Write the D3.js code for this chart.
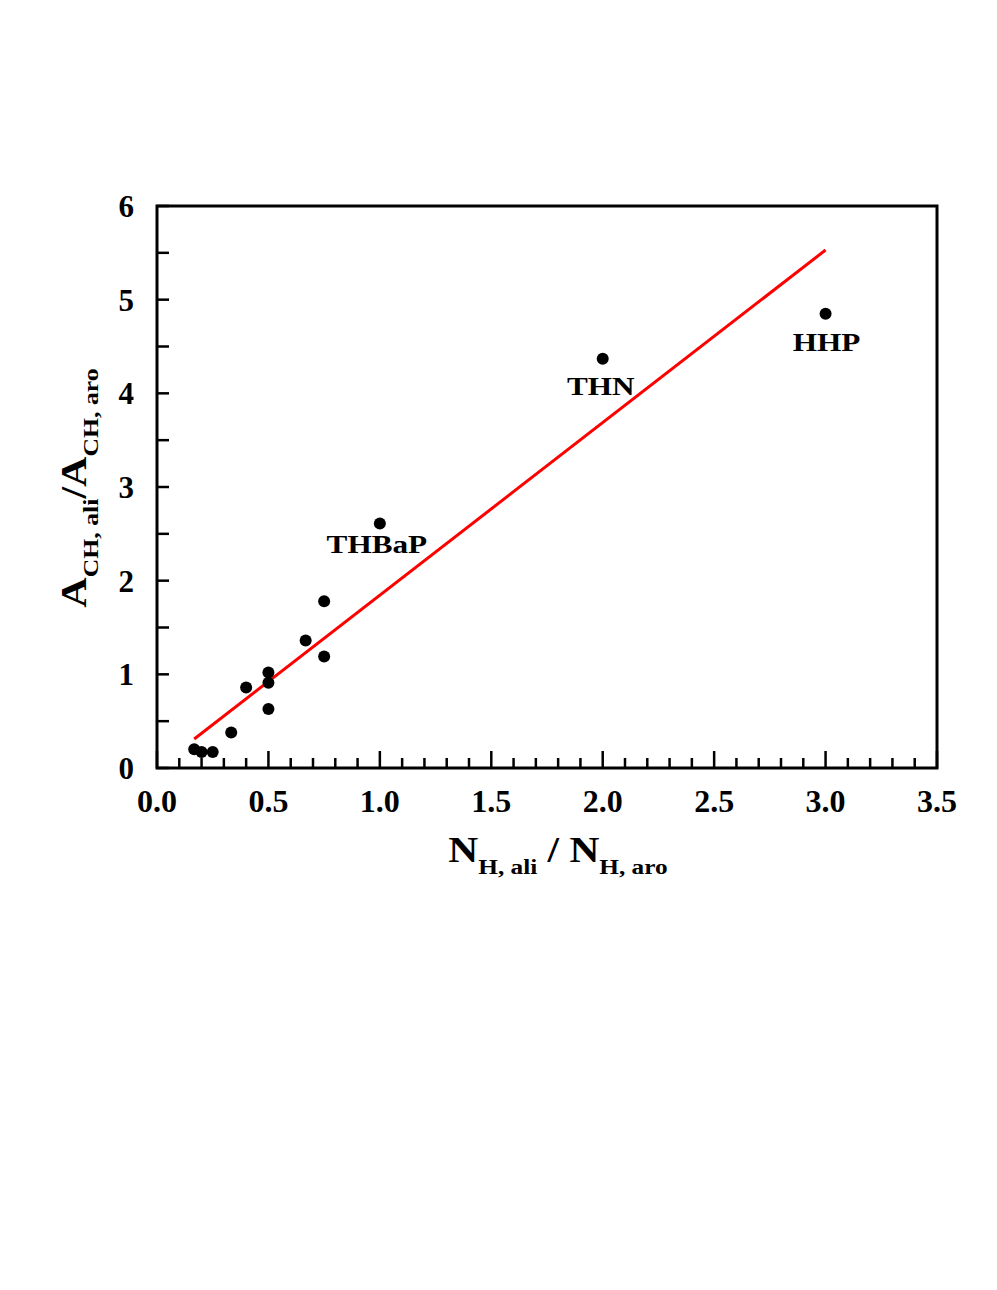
<!DOCTYPE html>
<html>
<head>
<meta charset="utf-8">
<script src="https://cdn.jsdelivr.net/npm/d3@7"></script>
<style>
	body { margin: 0; background: #fff; }
	text { font-family: "Liberation Serif", "Times New Roman", serif; font-weight: bold; fill: #000; }
</style>
</head>
<body>
<svg id="chart"></svg>
<script type="text/javascript">

	// data
	let ratioNH = [0.167, 0.2, 0.25, 0.333, 0.4, 0.5, 0.5, 0.5, 0.667, 0.75, 0.75, 1.0, 2.0, 3.0]
	let ratioA = [0.20, 0.17, 0.17, 0.38, 0.86, 1.02, 0.91, 0.63, 1.36, 1.78, 1.19, 2.61, 4.37, 4.85]

	// fitted line, endpoints
	let fitX = [0.167, 3.0]
	let fitY = [0.31, 5.53]

	// labelled compounds
	let labelNames = ["THBaP", "THN", "HHP"]
	let labelX = [1.0, 2.0, 3.0]
	let labelY = [2.61, 4.37, 4.85]

	let xDomain = [0, 3.5]
	let yDomain = [0, 6]

	// sizes
	let width = 997
	let height = 1290
	let plotLeft = 157, plotRight = 937, plotTop = 206, plotBottom = 768
	let stretch = 1.2      // text in the figure is a bit wide
	let labelOffsets = { "THBaP": [-3, 29], "THN": [-2, 36], "HHP": [1, 37] }

	let chart = d3.select("#chart")
		.attr("width", width)
		.attr("height", height)

	let xScale = d3.scaleLinear().domain(xDomain).range([plotLeft, plotRight])
	let yScale = d3.scaleLinear().domain(yDomain).range([plotBottom, plotTop])

	// tick marks, inward
	let xMajor = xScale.ticks(7)
	let xMinor = xScale.ticks(35)
	let yTicks = yScale.ticks(12)

	chart.append("g").selectAll("line")
		.data(xMinor)
		.enter().append("line")
		.attr("x1", d => xScale(d)).attr("x2", d => xScale(d))
		.attr("y1", plotBottom)
		.attr("y2", d => xMajor.some(m => Math.abs(m - d) < 1e-6) ? plotBottom - 17 : plotBottom - 10)
		.style("stroke", "#000").style("stroke-width", 2.5)

	chart.append("g").selectAll("line")
		.data(yTicks)
		.enter().append("line")
		.attr("x1", plotLeft).attr("x2", plotLeft + 12)
		.attr("y1", d => yScale(d)).attr("y2", d => yScale(d))
		.style("stroke", "#000").style("stroke-width", 2.5)

	// frame
	chart.append("rect")
		.attr("x", plotLeft).attr("y", plotTop)
		.attr("width", plotRight - plotLeft).attr("height", plotBottom - plotTop)
		.style("fill", "none").style("stroke", "#000").style("stroke-width", 3)

	// tick labels
	chart.append("g").selectAll("text")
		.data(xMajor)
		.enter().append("text")
		.attr("x", d => xScale(d))
		.attr("y", plotBottom + 44)
		.attr("text-anchor", "middle")
		.style("font-size", "32px")
		.text(d => d3.format(".1f")(d))

	chart.append("g").selectAll("text")
		.data(yScale.ticks(6))
		.enter().append("text")
		.attr("x", plotLeft - 23)
		.attr("y", d => yScale(d) + 11)
		.attr("text-anchor", "end")
		.style("font-size", "31px")
		.text(d => d)

	// fit line
	let lineGenerator = d3.line()
		.x(d => xScale(d[0]))
		.y(d => yScale(d[1]))

	chart.append("path")
		.attr("d", lineGenerator(d3.zip(fitX, fitY)))
		.style("fill", "none")
		.style("stroke", "#ff0000")
		.style("stroke-width", 3)

	// points
	chart.append("g").selectAll("circle")
		.data(d3.zip(ratioNH, ratioA))
		.enter().append("circle")
		.attr("cx", d => xScale(d[0]))
		.attr("cy", d => yScale(d[1]))
		.attr("r", 6)
		.style("fill", "#000")

	// compound labels
	chart.append("g").selectAll("text")
		.data(d3.zip(labelNames, labelX, labelY))
		.enter().append("text")
		.attr("transform", d => "translate(" + (xScale(d[1]) + labelOffsets[d[0]][0]) + "," + (yScale(d[2]) + labelOffsets[d[0]][1]) + ") scale(" + stretch + ",1)")
		.attr("text-anchor", "middle")
		.style("font-size", "26px")
		.text(d => d[0])

	// axis titles
	let xTitle = chart.append("text")
		.attr("transform", "translate(" + 558 + "," + 862 + ") scale(1.15,1)")
		.attr("text-anchor", "middle")
	xTitle.append("tspan").style("font-size", "36px").text("N")
	xTitle.append("tspan").style("font-size", "22px").attr("dy", 12).text("H, ali")
	xTitle.append("tspan").style("font-size", "36px").attr("dy", -12).text(" / N")
	xTitle.append("tspan").style("font-size", "22px").attr("dy", 12).text("H, aro")

	let yTitle = chart.append("text")
		.attr("transform", "translate(" + 86 + "," + 488 + ") rotate(-90) scale(1.17,1)")
		.attr("text-anchor", "middle")
	yTitle.append("tspan").style("font-size", "36px").text("A")
	yTitle.append("tspan").style("font-size", "22px").attr("dy", 12).text("CH, ali")
	yTitle.append("tspan").style("font-size", "36px").attr("dy", -12).text("/A")
	yTitle.append("tspan").style("font-size", "22px").attr("dy", 12).text("CH, aro")

</script>
</body>
</html>
